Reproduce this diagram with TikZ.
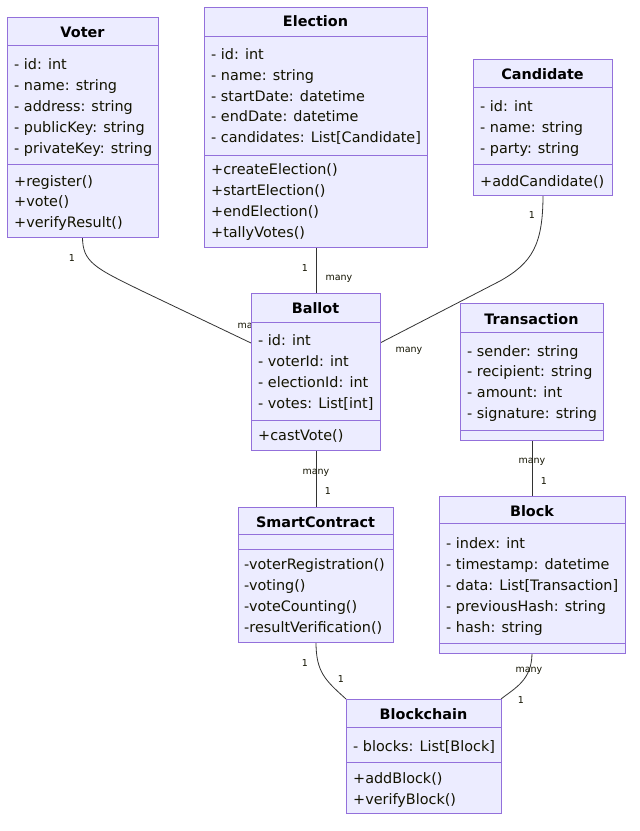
\documentclass[tikz,border=0pt]{standalone}
\usepackage{fontspec}
\setmainfont{DejaVu Sans}
\usetikzlibrary{calc}
\definecolor{clsfill}{HTML}{ECECFF}
\definecolor{clsborder}{HTML}{9370DB}
\definecolor{edgecol}{HTML}{333333}
\definecolor{txt}{HTML}{131300}
\tikzset{
  cls/.style={draw=clsborder, fill=clsfill, line width=1pt, inner sep=0pt, outer sep=0pt, anchor=north west},
  divider/.style={draw=clsborder, line width=1pt},
  ttl/.style={font=\bfseries\fontsize{14.4}{16}\selectfont, text=black, inner sep=0pt, text height=12.5pt, text depth=1pt},
  mem/.style={anchor=west, inner sep=0pt, font=\fontsize{14.4}{16}\selectfont, text=txt, text height=12.5pt, text depth=1pt},
  lbl/.style={font=\fontsize{9.5}{11}\selectfont, text=txt, inner sep=0pt, text height=7pt, text depth=2pt},
  rel/.style={draw=edgecol, line width=0.8pt},
}
\begin{document}
\begin{tikzpicture}[x=1pt,y=-1pt]
\useasboundingbox[fill=white] (0,0) rectangle (640,831);

% ---------- connectors (drawn first, boxes on top) ----------
\coordinate (vs) at (82.5,237);
\coordinate (bw) at (251,343);
\draw[rel] (vs) .. controls (82.5,262) and (95,268) .. (140,290) -- (bw);
\node[lbl] (l1a) at (72,259) {1};
\node[lbl] (l1b) at (251,326) {many};

\coordinate (es) at (316,247);
\coordinate (bn) at (316,293);
\draw[rel] (es) -- (bn);
\node[lbl] (l2a) at (305,269) {1};
\node[lbl] (l2b) at (339,278) {many};

\coordinate (cs) at (543,195);
\coordinate (be) at (380,343);
\draw[rel] (cs) .. controls (543,245) and (532,263) .. (500,281) -- (be);
\node[lbl] (l3a) at (532,216) {1};
\node[lbl] (l3b) at (409,350) {many};

\coordinate (bs) at (316,450);
\coordinate (sn) at (316,507);
\draw[rel] (bs) -- (sn);
\node[lbl] (l4a) at (316,472) {many};
\node[lbl] (l4b) at (328,492) {1};

\coordinate (ts) at (532,440);
\coordinate (kn) at (532,496);
\draw[rel] (ts) -- (kn);
\node[lbl] (l5a) at (532,461) {many};
\node[lbl] (l5b) at (544,482) {1};

\coordinate (ss) at (316,642);
\coordinate (cnw) at (346,699);
\draw[rel] (ss) .. controls (316,672) and (325,680) .. (cnw);
\node[lbl] (l6a) at (305,664) {1};
\node[lbl] (l6b) at (341,680) {1};

\coordinate (ks) at (532,653);
\coordinate (cne) at (501,699);
\draw[rel] (ks) .. controls (532,680) and (515,688) .. (cne);
\node[lbl] (l7a) at (529,670) {many};
\node[lbl] (l7b) at (521,701) {1};

% ---------- Voter ----------
\node[cls, minimum width=151pt, minimum height=220pt] (voter) at (7,17) {};
\draw[divider] (7,45) -- (158,45);
\draw[divider] (7,164) -- (158,164);
\node[ttl] (voterT) at (82.5,32) {Voter};
\node[mem] (v1) at (14,64) {- id: int};
\node[mem] (v2) at (14,85) {- name: string};
\node[mem] (v3) at (14,106) {- address: string};
\node[mem] (v4) at (14,127) {- publicKey: string};
\node[mem] (v5) at (14,148) {- privateKey: string};
\node[mem] (v6) at (14,181) {+register()};
\node[mem] (v7) at (14,201) {+vote()};
\node[mem] (v8) at (14,222) {+verifyResult()};

% ---------- Election ----------
\node[cls, minimum width=223pt, minimum height=240pt] (election) at (204,7) {};
\draw[divider] (204,36) -- (427,36);
\draw[divider] (204,155) -- (427,155);
\node[ttl] (electionT) at (315.5,21) {Election};
\node[mem] (e1) at (211,54) {- id: int};
\node[mem] (e2) at (211,75) {- name: string};
\node[mem] (e3) at (211,96) {- startDate: datetime};
\node[mem] (e4) at (211,116) {- endDate: datetime};
\node[mem] (e5) at (211,137) {- candidates: List[Candidate]};
\node[mem] (e6) at (211,169) {+createElection()};
\node[mem] (e7) at (211,190) {+startElection()};
\node[mem] (e8) at (211,211) {+endElection()};
\node[mem] (e9) at (211,232) {+tallyVotes()};

% ---------- Candidate ----------
\node[cls, minimum width=139pt, minimum height=136pt] (candidate) at (473,59) {};
\draw[divider] (473,87) -- (612,87);
\draw[divider] (473,164) -- (612,164);
\node[ttl] (candidateT) at (542.5,74) {Candidate};
\node[mem] (c1) at (480,106) {- id: int};
\node[mem] (c2) at (480,127) {- name: string};
\node[mem] (c3) at (480,148) {- party: string};
\node[mem] (c4) at (480,181) {+addCandidate()};

% ---------- Ballot ----------
\node[cls, minimum width=129pt, minimum height=157pt] (ballot) at (251,293) {};
\draw[divider] (251,322) -- (380,322);
\draw[divider] (251,420) -- (380,420);
\node[ttl] (ballotT) at (315.5,308) {Ballot};
\node[mem] (b1) at (258,340) {- id: int};
\node[mem] (b2) at (258,361) {- voterId: int};
\node[mem] (b3) at (258,382) {- electionId: int};
\node[mem] (b4) at (258,403) {- votes: List[int]};
\node[mem] (b5) at (258,435) {+castVote()};

% ---------- Transaction ----------
\node[cls, minimum width=143pt, minimum height=137pt] (transaction) at (460,303) {};
\draw[divider] (460,332) -- (603,332);
\draw[divider] (460,430) -- (603,430);
\node[ttl] (transactionT) at (531.5,319) {Transaction};
\node[mem] (t1) at (467,351) {- sender: string};
\node[mem] (t2) at (467,371) {- recipient: string};
\node[mem] (t3) at (467,392) {- amount: int};
\node[mem] (t4) at (467,413) {- signature: string};

% ---------- SmartContract ----------
\node[cls, minimum width=155pt, minimum height=135pt] (smart) at (238,507) {};
\draw[divider] (238,534) -- (393,534);
\draw[divider] (238,549) -- (393,549);
\node[ttl] (smartT) at (315.5,522) {SmartContract};
\node[mem] (s1) at (244,564) {-voterRegistration()};
\node[mem] (s2) at (244,585) {-voting()};
\node[mem] (s3) at (244,606) {-voteCounting()};
\node[mem] (s4) at (244,627) {-resultVerification()};

% ---------- Block ----------
\node[cls, minimum width=186pt, minimum height=157pt] (block) at (439,496) {};
\draw[divider] (439,523) -- (625,523);
\draw[divider] (439,643) -- (625,643);
\node[ttl] (blockT) at (532,511) {Block};
\node[mem] (k1) at (446,543) {- index: int};
\node[mem] (k2) at (446,564) {- timestamp: datetime};
\node[mem] (k3) at (446,585) {- data: List[Transaction]};
\node[mem] (k4) at (446,606) {- previousHash: string};
\node[mem] (k5) at (446,627) {- hash: string};

% ---------- Blockchain ----------
\node[cls, minimum width=155pt, minimum height=114pt] (chain) at (346,699) {};
\draw[divider] (346,727) -- (501,727);
\draw[divider] (346,762) -- (501,762);
\node[ttl] (chainT) at (423.5,714) {Blockchain};
\node[mem] (h1) at (353,746) {- blocks: List[Block]};
\node[mem] (h2) at (353,778) {+addBlock()};
\node[mem] (h3) at (353,799) {+verifyBlock()};
\end{tikzpicture}
\end{document}
